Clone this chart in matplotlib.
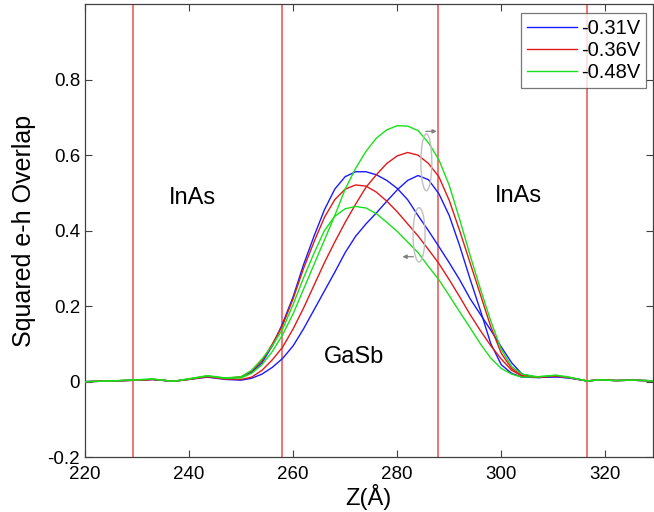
import matplotlib
matplotlib.use("Agg")
import matplotlib.pyplot as plt
from matplotlib.patches import Ellipse

plt.rcParams['font.family'] = ['Liberation Sans', 'DejaVu Sans']

# ---------------- data ----------------
z = [220, 225, 230, 233, 237, 240, 243.5, 247, 250, 252, 254, 256, 258, 260,
     262, 264, 266, 268, 270, 272, 274, 276, 278, 280, 282, 284, 286, 288,
     290, 292, 294, 296, 298, 300, 302, 304, 307, 310.5, 313, 316.5, 319,
     322, 325, 330]

blue_left = [0.0, 0.002, 0.004, 0.006, 0.001, 0.007, 0.014, 0.008, 0.012, 0.025,
             0.05, 0.095, 0.155, 0.225, 0.31, 0.385, 0.455, 0.51, 0.543, 0.556,
             0.556, 0.548, 0.533, 0.512, 0.482, 0.44, 0.4, 0.358, 0.315, 0.27,
             0.22, 0.178, 0.136, 0.092, 0.05, 0.02, 0.011, 0.013, 0.01, 0.002,
             0.005, 0.003, 0.004, 0.002]
blue_right = [0.0, 0.002, 0.004, 0.006, 0.001, 0.006, 0.012, 0.006, 0.004, 0.009,
              0.02, 0.038, 0.062, 0.095, 0.14, 0.19, 0.24, 0.29, 0.342, 0.385,
              0.418, 0.447, 0.478, 0.508, 0.533, 0.546, 0.535, 0.498, 0.44, 0.36,
              0.272, 0.188, 0.1, 0.045, 0.022, 0.012, 0.011, 0.013, 0.01, 0.002,
              0.005, 0.003, 0.004, 0.002]
red_left = [0.0, 0.002, 0.004, 0.006, 0.001, 0.007, 0.015, 0.009, 0.013, 0.028,
            0.055, 0.1, 0.15, 0.22, 0.3, 0.37, 0.435, 0.482, 0.51, 0.521,
            0.518, 0.502, 0.478, 0.45, 0.418, 0.386, 0.35, 0.313, 0.27, 0.225,
            0.178, 0.135, 0.095, 0.06, 0.03, 0.015, 0.012, 0.015, 0.011, 0.002,
            0.005, 0.003, 0.004, 0.002]
red_right = [0.0, 0.002, 0.004, 0.006, 0.001, 0.006, 0.013, 0.007, 0.006, 0.012,
             0.03, 0.058, 0.092, 0.14, 0.195, 0.255, 0.315, 0.37, 0.422, 0.47,
             0.515, 0.548, 0.578, 0.598, 0.607, 0.6, 0.578, 0.543, 0.48, 0.4,
             0.315, 0.23, 0.145, 0.075, 0.035, 0.016, 0.012, 0.015, 0.011, 0.002,
             0.005, 0.003, 0.004, 0.002]
green_left = [0.0, 0.002, 0.005, 0.007, 0.001, 0.008, 0.016, 0.01, 0.013, 0.03,
              0.06, 0.095, 0.14, 0.205, 0.275, 0.34, 0.4, 0.438, 0.458, 0.464,
              0.46, 0.445, 0.422, 0.398, 0.37, 0.342, 0.305, 0.27, 0.228, 0.185,
              0.143, 0.1, 0.062, 0.035, 0.02, 0.012, 0.013, 0.017, 0.012, 0.002,
              0.005, 0.003, 0.004, 0.002]
green_right = [0.0, 0.002, 0.005, 0.007, 0.001, 0.007, 0.015, 0.009, 0.01, 0.022,
               0.045, 0.08, 0.125, 0.18, 0.245, 0.31, 0.375, 0.44, 0.51, 0.565,
               0.61, 0.645, 0.667, 0.678, 0.677, 0.665, 0.633, 0.588, 0.52, 0.43,
               0.335, 0.245, 0.16, 0.085, 0.04, 0.02, 0.013, 0.017, 0.012, 0.002,
               0.005, 0.003, 0.004, 0.002]

labels = ['-0.31V', '-0.36V', '-0.48V']
colors = ['#1a1aff', '#e01a1a', '#1ae01a']

boundaries = [229.3, 257.9, 287.9, 316.5]
region_labels = ['InAs', 'GaSb', 'InAs']
region_pos = [(240.7, 0.487), (271.6, 0.066), (303.3, 0.493)]

xticks = [220, 240, 260, 280, 300, 320]
yticks = [-0.2, 0, 0.2, 0.4, 0.6, 0.8]
ytick_labels = ['-0.2', '0', '0.2', '0.4', '0.6', '0.8']

# ---------------- figure ----------------
fig = plt.figure(figsize=(6.54, 5.12), dpi=100)
ax = fig.add_axes([0.130, 0.107, 0.868, 0.885])

for b in boundaries:
    ax.axvline(b, color='#e85050', lw=1.1, zorder=1)

pairs = [(blue_left, blue_right), (red_left, red_right), (green_left, green_right)]
for (a, b), c, lab in zip(pairs, colors, labels):
    ax.plot(z, a, color=c, lw=1.0, label=lab, zorder=3)
    ax.plot(z, b, color=c, lw=1.0, zorder=3)

for t, (x, y) in zip(region_labels, region_pos):
    ax.text(x, y, t, fontsize=17, ha='center', va='center')

# annotations: ellipses + arrows
ax.add_patch(Ellipse((285.6, 0.581), 2.1, 0.151, fill=False, ec='#c0c0c0', lw=1.0, zorder=4))
ax.add_patch(Ellipse((284.2, 0.389), 2.3, 0.144, fill=False, ec='#c0c0c0', lw=1.0, zorder=4))
ax.annotate('', xy=(287.6, 0.663), xytext=(285.5, 0.663),
            arrowprops=dict(arrowstyle='-|>', color='#808080', lw=0.9,
                            mutation_scale=6, shrinkA=0, shrinkB=0))
ax.annotate('', xy=(281.0, 0.331), xytext=(283.1, 0.331),
            arrowprops=dict(arrowstyle='-|>', color='#808080', lw=0.9,
                            mutation_scale=6, shrinkA=0, shrinkB=0))

ax.set_xlim(220, 329.1)
ax.set_ylim(-0.2, 1.0)
ax.set_xticks(xticks)
ax.set_xticklabels([str(v) for v in xticks])
ax.set_yticks(yticks)
ax.set_yticklabels(ytick_labels)
ax.tick_params(direction='in', top=True, right=True, length=5, labelsize=13.5,
               color='#404040', width=0.8)
ax.tick_params(axis='x', pad=6)
for s in ax.spines.values():
    s.set_color('#404040')
    s.set_linewidth(0.9)

ax.set_xlabel('Z(Å)', fontsize=17, labelpad=1)
ax.set_ylabel('Squared e-h Overlap', fontsize=18, labelpad=8)

leg = ax.legend(loc='upper right', bbox_to_anchor=(0.989, 0.980), borderaxespad=0,
                fancybox=False, edgecolor='#555555', fontsize=14.5, handlelength=2.5,
                handletextpad=0.2, borderpad=0.3, labelspacing=0.15)
leg.get_frame().set_linewidth(0.9)

fig.savefig('out.png', dpi=100)
